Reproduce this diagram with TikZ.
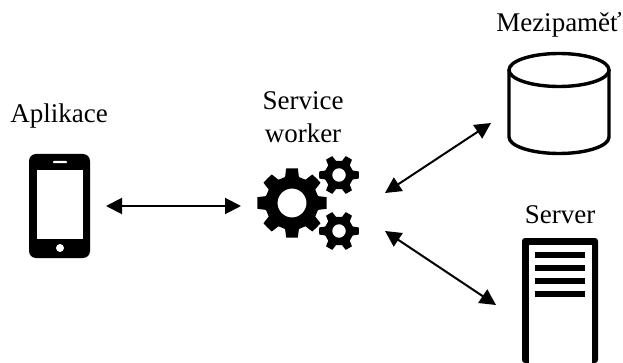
\documentclass[tikz,border=0pt]{standalone}
\usepackage{fontspec}
\setmainfont{Liberation Serif}
\usetikzlibrary{arrows.meta}
\newcommand{\mygear}[9]{% x y outer inner hole teeth rotation tophalf basehalf (fractions of pitch)
  \fill[black,even odd rule]
    plot[samples at={0,...,\numexpr#6*4-1\relax},smooth cycle,tension=0.08,variable=\k]
      ({#1+(mod(\k,4)<2?#3:#4)*cos(90+#7+360/#6*(floor(\k/4)+(mod(\k,4)==0?-#8:(mod(\k,4)==1?#8:(mod(\k,4)==2?#9:1-#9)))))},
       {#2+(mod(\k,4)<2?#3:#4)*sin(90+#7+360/#6*(floor(\k/4)+(mod(\k,4)==0?-#8:(mod(\k,4)==1?#8:(mod(\k,4)==2?#9:1-#9)))))})
    (#1+#5,#2) arc[start angle=0,end angle=360,radius=#5];
}
\tikzset{
  x=1pt,y=-1pt,
  lbl/.style={font=\fontsize{27}{33}\selectfont,align=center,inner sep=0pt},
  dbl/.style={{Triangle[length=16pt,width=16pt]}-{Triangle[length=16pt,width=16pt]},line width=2pt},
  spot/.style={inner sep=0pt,minimum size=0pt}
}
\begin{document}
\begin{tikzpicture}
\useasboundingbox (0,0) rectangle (623,363);
% labels
\node[lbl,anchor=base] (lapp) at (59,123) {Aplikace};
\node[lbl] (lsw) at (303,117) {Service\\worker};
\node[lbl,anchor=base] (lcache) at (559,32) {Mezipaměť};
\node[lbl,anchor=base] (lsrv) at (560,223) {Server};
% phone
\node[spot] (phone) at (59.5,206) {};
\fill[black,rounded corners=7pt] (29,154) rectangle (90,258);
\fill[white] (37,170) rectangle (83,239);
\fill[white,rounded corners=0.8pt] (53,161) rectangle (67,163.2);
\fill[white] (60,248) circle (4);
% gears
\node[spot] (gears) at (308,204) {};
\mygear{292}{203}{35}{27}{14.5}{8}{0}{0.21}{0.33}
\mygear{339}{175}{20}{14.5}{6.8}{6}{30}{0.17}{0.3}
\mygear{339}{231}{20}{14.5}{6.8}{6}{30}{0.17}{0.3}
% cylinder
\node[spot] (cache) at (559,103) {};
\draw[line width=3.4pt,fill=white] (509,70) -- (509,137) arc[start angle=180,end angle=360,x radius=50,y radius=-16.5] -- (609,70);
\draw[line width=3.4pt] (559,70) ellipse[x radius=50,y radius=16.5];
% server
\node[spot] (server) at (560,300) {};
\fill[black,rounded corners=3pt] (522,238) -- (598,238) -- (598,363) -- (522,363) -- cycle;
\fill[white] (528.5,244.5) rectangle (591.5,362.5);
\foreach \yy in {255,268,281,294}
  \fill[black] (535,\yy-3) rectangle (585,\yy+3);
% connectors
\coordinate (a1) at (106,206);
\coordinate (a2) at (241,206);
\coordinate (b1) at (385,193);
\coordinate (b2) at (491,123);
\coordinate (c1) at (385,231);
\coordinate (c2) at (496,305);
\draw[dbl] (a1) -- (a2);
\draw[dbl] (b1) -- (b2);
\draw[dbl] (c1) -- (c2);
\end{tikzpicture}
\end{document}
